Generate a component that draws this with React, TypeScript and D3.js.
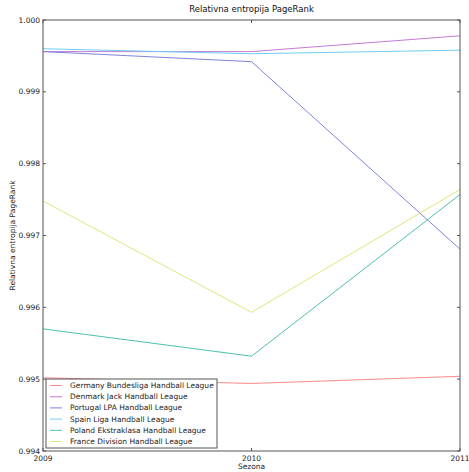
import React from "react";
import * as d3 from "d3";

const seasons = [2009, 2010, 2011];
const leagues = [
  "Germany Bundesliga Handball League",
  "Denmark Jack Handball League",
  "Portugal LPA Handball League",
  "Spain Liga Handball League",
  "Poland Ekstraklasa Handball League",
  "France Division Handball League",
];
const germany = [0.99502, 0.99494, 0.99504];
const denmark = [0.99956, 0.99956, 0.99978];
const portugal = [0.99956, 0.99942, 0.99681];
const spain = [0.9996, 0.99953, 0.99958];
const poland = [0.9957, 0.99532, 0.99757];
const france = [0.99748, 0.99593, 0.99764];
const seriesValues = [germany, denmark, portugal, spain, poland, france];
const colors = ["#ff8a8a", "#c47ad6", "#7f84e0", "#70ccf6", "#4dbfb2", "#dfe67c"];
const yTicks = [0.994, 0.995, 0.996, 0.997, 0.998, 0.999, 1.0];

export default function App() {
  const W = 469, H = 472;
  const L = 43, R = 460, T = 20, B = 451;
  const x = d3.scaleLinear().domain([2009, 2011]).range([L, R]);
  const y = d3.scaleLinear().domain([0.994, 1.0]).range([B, T]);
  const line = d3.line<number>().x((_, i) => x(seasons[i])).y((d) => y(d));
  const font = "DejaVu Sans, sans-serif";
  return (
    <svg width={W} height={H} style={{ position: "absolute", left: 0, top: 0, background: "#fff" }}>
      <rect x={0} y={0} width={W} height={H} fill="#fff" />
      {seriesValues.map((s, i) => (
        <path key={i} d={line(s) || ""} fill="none" stroke={colors[i]} strokeWidth={1} />
      ))}
      <rect x={L} y={T} width={R - L} height={B - T} fill="none" stroke="#555" strokeWidth={1} />
      {yTicks.map((t) => (
        <g key={t}>
          <line x1={L} x2={L + 3} y1={y(t)} y2={y(t)} stroke="#555" />
          <line x1={R - 3} x2={R} y1={y(t)} y2={y(t)} stroke="#555" />
          <text x={L - 3} y={y(t) + 2.5} fontSize={7.5} textAnchor="end" fontFamily={font} fill="#222">
            {t.toFixed(3)}
          </text>
        </g>
      ))}
      {seasons.map((s) => (
        <g key={s}>
          <line x1={x(s)} x2={x(s)} y1={B} y2={B - 3} stroke="#555" />
          <line x1={x(s)} x2={x(s)} y1={T} y2={T + 3} stroke="#555" />
          <text x={x(s)} y={B + 10} fontSize={7.5} textAnchor="middle" fontFamily={font} fill="#222">
            {s}
          </text>
        </g>
      ))}
      <text x={(L + R) / 2} y={12} fontSize={8.5} textAnchor="middle" fontFamily={font} fill="#111">
        Relativna entropija PageRank
      </text>
      <text x={(L + R) / 2} y={469} fontSize={7.5} textAnchor="middle" fontFamily={font} fill="#222">
        Sezona
      </text>
      <text
        transform={`translate(15,${(T + B) / 2}) rotate(-90)`}
        fontSize={7.5}
        textAnchor="middle"
        fontFamily={font}
        fill="#222"
      >
        Relativna entropija PageRank
      </text>
      <rect x={46} y={379} width={171} height={69} fill="#fff" stroke="#555" strokeWidth={1} />
      {leagues.map((n, i) => (
        <g key={n}>
          <line x1={50} x2={62} y1={385.5 + i * 11.2} y2={385.5 + i * 11.2} stroke={colors[i]} strokeWidth={1} />
          <text x={70} y={388 + i * 11.2} fontSize={7.5} fontFamily={font} fill="#222">
            {n}
          </text>
        </g>
      ))}
    </svg>
  );
}
